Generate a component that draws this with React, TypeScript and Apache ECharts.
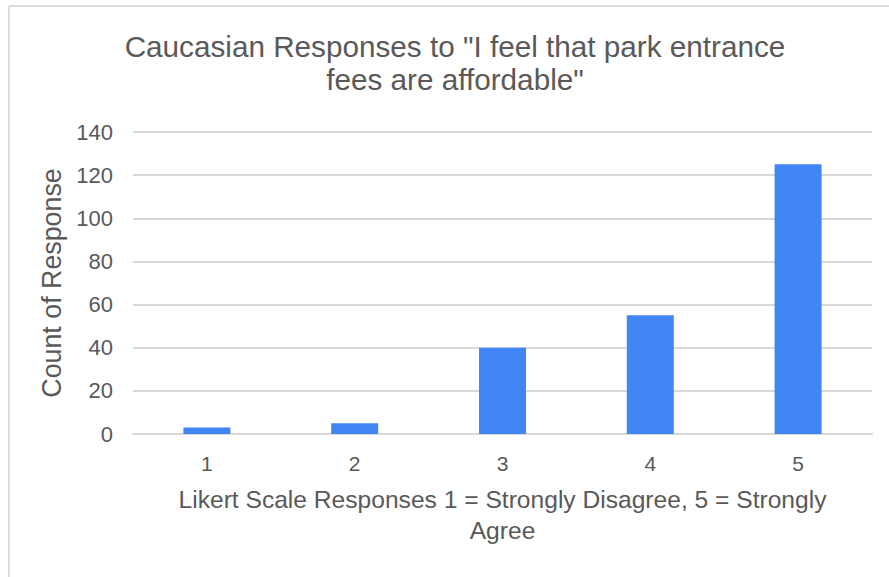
import React, { useEffect, useRef } from "react";
import * as echarts from "echarts";

const categories = ["1", "2", "3", "4", "5"];
const counts = [3, 5, 40, 55, 125];
const yTicks = { min: 0, max: 140, interval: 20 };
const titleLines = ["Caucasian Responses to \"I feel that park entrance", "fees are affordable\""];
const xName = "Likert Scale Responses 1 = Strongly Disagree, 5 = Strongly\nAgree";
const yName = "Count of Response";

const FONT = "'Liberation Sans', Arial, sans-serif";
const TEXT = "#595959";
const GRID = "#d9d9d9";

export default function App() {
  const ref = useRef<HTMLDivElement>(null);
  useEffect(() => {
    if (!ref.current) return;
    const chart = echarts.init(ref.current, undefined, { renderer: "svg" });
    chart.setOption({
      animation: false,
      backgroundColor: "#ffffff",
      textStyle: { fontFamily: FONT },
      graphic: [
        { type: "line", shape: { x1: 9, y1: 6, x2: 889, y2: 6 }, style: { stroke: "#dcdcdc", lineWidth: 2 } },
        { type: "line", shape: { x1: 9, y1: 6, x2: 9, y2: 577 }, style: { stroke: "#dcdcdc", lineWidth: 2 } },
        {
          type: "text",
          x: 455,
          y: 30,
          style: {
            text: titleLines.join("\n"),
            align: "center",
            verticalAlign: "top",
            fontSize: 29.7,
            lineHeight: 33,
            fill: TEXT,
            fontFamily: FONT,
          },
        },
      ],
      grid: { left: 133, right: 17, top: 132, bottom: 143, containLabel: false },
      xAxis: {
        type: "category",
        data: categories,
        name: xName,
        nameLocation: "middle",
        nameGap: 50,
        nameTextStyle: { fontSize: 24.6, color: TEXT, lineHeight: 31, fontFamily: FONT },
        axisLine: { show: true, lineStyle: { color: GRID, width: 2 } },
        axisTick: { show: false },
        axisLabel: { fontSize: 21, color: TEXT, margin: 19, fontFamily: FONT },
      },
      yAxis: {
        type: "value",
        min: yTicks.min,
        max: yTicks.max,
        interval: yTicks.interval,
        name: yName,
        nameLocation: "middle",
        nameGap: 63,
        nameTextStyle: { fontSize: 26.8, color: TEXT, fontFamily: FONT },
        axisLine: { show: false },
        axisTick: { show: false },
        axisLabel: { fontSize: 22, color: TEXT, margin: 20, fontFamily: FONT },
        splitLine: { lineStyle: { color: GRID, width: 2 } },
      },
      series: [
        {
          type: "bar",
          data: counts,
          barWidth: 47,
          itemStyle: { color: "#4285f4" },
        },
      ],
    });
    return () => chart.dispose();
  }, []);
  return (
    <div
      ref={ref}
      style={{ position: "fixed", left: 0, top: 0, width: 889, height: 577 }}
    />
  );
}
